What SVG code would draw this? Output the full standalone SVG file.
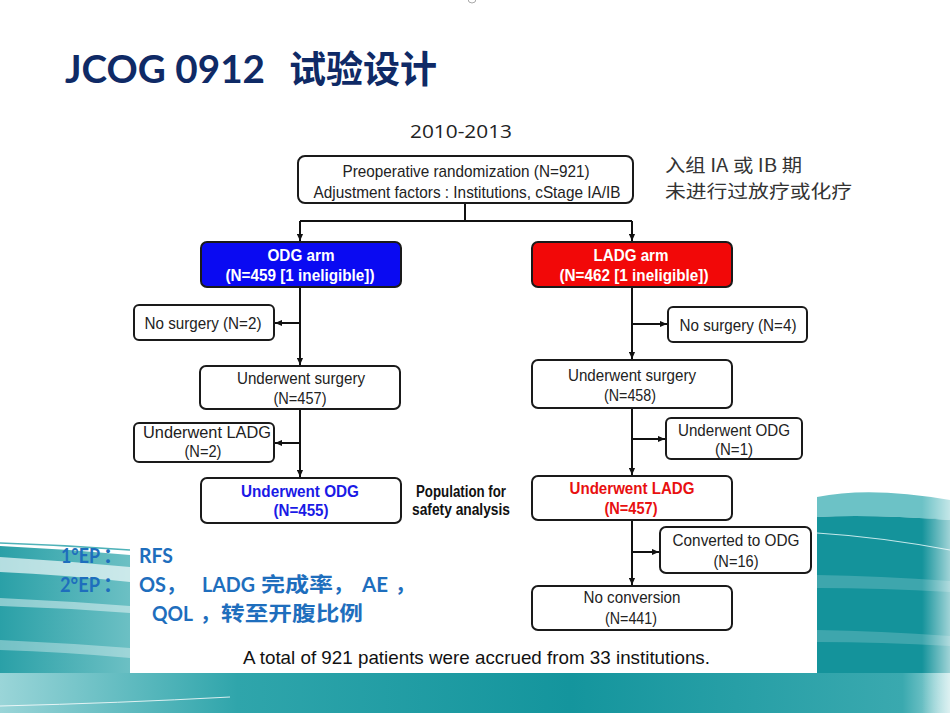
<svg xmlns="http://www.w3.org/2000/svg" width="950" height="713" viewBox="0 0 950 713">
<style>
.box{fill:#fff;stroke:#1a1a1a;stroke-width:2}
.t{font-family:"Liberation Sans",Arial,sans-serif;font-size:17px;fill:#222;text-anchor:middle}
.tb{font-family:"Liberation Sans",Arial,sans-serif;font-size:16px;font-weight:bold;text-anchor:middle}
.w{fill:#fff}
.blue{fill:#1a1ae6}
.red{fill:#e81010}
.ln{fill:none;stroke:#111;stroke-width:2}
.ep{font-family:Lato,"Noto Sans CJK SC",sans-serif;font-size:20px;font-weight:bold;fill:#1e6ebd}
.cjk{font-family:"Noto Sans CJK SC",sans-serif;font-size:18px;fill:#333}
</style>
<defs>
<marker id="ah" viewBox="0 0 8 8" refX="8" refY="4" markerWidth="7" markerHeight="7" markerUnits="userSpaceOnUse" orient="auto"><path d="M0,0.5 L8,4 L0,7.5 Z" fill="#111"/></marker>
<linearGradient id="gBot" x1="0" y1="0" x2="1" y2="0">
<stop offset="0" stop-color="#9ad5d8"/><stop offset="0.25" stop-color="#2fa5ab"/><stop offset="0.6" stop-color="#14959d"/><stop offset="0.95" stop-color="#3aa9af"/><stop offset="1" stop-color="#a9dcde"/>
</linearGradient>
<linearGradient id="gLeft" x1="0" y1="0" x2="1" y2="0">
<stop offset="0" stop-color="#2aa0a7"/><stop offset="1" stop-color="#6cc0c4"/>
</linearGradient>
<linearGradient id="gEdge" x1="0" y1="0" x2="1" y2="0">
<stop offset="0" stop-color="#fff" stop-opacity="0"/><stop offset="1" stop-color="#fff" stop-opacity="0.6"/>
</linearGradient>
</defs>
<rect x="0" y="0" width="950" height="713" fill="#fff"/>
<!-- decorative waves -->
<g id="decor">
<path d="M0,546 Q65,549 130,555 L130,673 L0,673 Z" fill="url(#gLeft)"/>
<path d="M0,543 Q65,545 130,550" fill="none" stroke="#4fb2b8" stroke-width="1.5"/>
<path d="M0,557 Q65,561 130,567 L130,582 Q65,575 0,572 Z" fill="#fff" opacity="0.65"/>
<path d="M0,598 Q65,601 130,606 L130,613 Q65,608 0,606 Z" fill="#fff" opacity="0.45"/>
<path d="M0,640 Q65,643 130,648 L130,658 Q65,652 0,650 Z" fill="#fff" opacity="0.35"/>
<rect x="0" y="673" width="950" height="40" fill="url(#gBot)"/>
<path d="M0,706 Q120,703 230,697" fill="none" stroke="#fff" stroke-opacity="0.8" stroke-width="1"/>
<path d="M817,497 Q870,486 950,500 L950,520 Q870,514 817,517 Z" fill="#6cc2c6"/>
<path d="M817,517 Q870,514 950,520 L950,673 L817,673 Z" fill="#14939b"/>
<path d="M817,533 Q880,537 950,550" fill="none" stroke="#c4e8ea" stroke-width="1.2"/>
<path d="M817,575 Q880,576 950,581 L950,592 Q880,588 817,588 Z" fill="#fff" opacity="0.18"/>
<path d="M817,630 Q880,631 950,636 L950,646 Q880,642 817,642 Z" fill="#fff" opacity="0.18"/>
<rect x="922" y="490" width="28" height="223" fill="url(#gEdge)"/>
<rect x="130" y="110" width="687" height="563" fill="#fff"/>
</g>
<circle cx="472" cy="-1" r="4" fill="none" stroke="#aaa" stroke-width="1"/>
<!-- title -->
<text x="65" y="83" font-family="Lato,'Open Sans',sans-serif" font-size="38" font-weight="bold" fill="#0f2a66"><tspan textLength="200" lengthAdjust="spacingAndGlyphs">JCOG 0912</tspan><tspan x="289" font-family="'Noto Sans CJK SC',sans-serif" font-size="37">试验设计</tspan></text>
<text x="410" y="138" font-family="'Open Sans','Liberation Sans',sans-serif" font-size="18" fill="#222" textLength="102" lengthAdjust="spacingAndGlyphs">2010-2013</text>
<text class="cjk" x="665" y="172" textLength="137" lengthAdjust="spacingAndGlyphs">入组 IA 或 IB 期</text>
<text class="cjk" x="665" y="198" textLength="187" lengthAdjust="spacingAndGlyphs">未进行过放疗或化疗</text>
<!-- connectors -->
<g id="connectors">
<path class="ln" d="M465,204 V221 M300,221 H632"/>
<path class="ln" d="M300,221 V241" marker-end="url(#ah)"/>
<path class="ln" d="M632,221 V241" marker-end="url(#ah)"/>
<path class="ln" d="M300,287 V365" marker-end="url(#ah)"/>
<path class="ln" d="M300,323 H275" marker-end="url(#ah)"/>
<path class="ln" d="M300,409 V477" marker-end="url(#ah)"/>
<path class="ln" d="M300,443 H275" marker-end="url(#ah)"/>
<path class="ln" d="M632,287 V359" marker-end="url(#ah)"/>
<path class="ln" d="M632,324 H667" marker-end="url(#ah)"/>
<path class="ln" d="M632,408 V475" marker-end="url(#ah)"/>
<path class="ln" d="M632,439 H665" marker-end="url(#ah)"/>
<path class="ln" d="M632,520 V585" marker-end="url(#ah)"/>
<path class="ln" d="M632,552 H659" marker-end="url(#ah)"/>
</g>
<!-- nodes -->
<g id="randomization">
<rect class="box" x="298" y="156" width="335" height="47" rx="7"/>
<text class="t" x="466" y="177" textLength="247" lengthAdjust="spacingAndGlyphs">Preoperative randomization (N=921)</text>
<text class="t" x="467" y="198" textLength="307" lengthAdjust="spacingAndGlyphs">Adjustment factors : Institutions, cStage IA/IB</text>
</g>
<g id="odg_arm">
<rect x="201" y="242" width="200" height="45" rx="6" fill="#0a0af2" stroke="#1a1a1a" stroke-width="2"/>
<text class="tb w" x="301" y="261" textLength="67" lengthAdjust="spacingAndGlyphs">ODG arm</text>
<text class="tb w" x="300" y="281" textLength="149" lengthAdjust="spacingAndGlyphs">(N=459 [1 ineligible])</text>
</g>
<g id="ladg_arm">
<rect x="532" y="242" width="200" height="45" rx="6" fill="#f20808" stroke="#1a1a1a" stroke-width="2"/>
<text class="tb w" x="631" y="261" textLength="75" lengthAdjust="spacingAndGlyphs">LADG arm</text>
<text class="tb w" x="634" y="281" textLength="149" lengthAdjust="spacingAndGlyphs">(N=462 [1 ineligible])</text>
</g>
<g id="odg_no_surgery">
<rect class="box" x="134" y="305" width="140" height="35" rx="5"/>
<text class="t" x="203" y="329" textLength="117" lengthAdjust="spacingAndGlyphs">No surgery (N=2)</text>
</g>
<g id="odg_surgery">
<rect class="box" x="200" y="366" width="200" height="43" rx="6"/>
<text class="t" x="301" y="384" textLength="128" lengthAdjust="spacingAndGlyphs">Underwent surgery</text>
<text class="t" x="300" y="404" textLength="53" lengthAdjust="spacingAndGlyphs">(N=457)</text>
</g>
<g id="odg_ladg">
<rect class="box" x="134" y="423" width="140" height="39" rx="5"/>
<text class="t" x="207" y="438" textLength="128" lengthAdjust="spacingAndGlyphs">Underwent LADG</text>
<text class="t" x="203" y="457" textLength="37" lengthAdjust="spacingAndGlyphs">(N=2)</text>
</g>
<g id="odg_underwent_odg">
<rect class="box" x="201" y="478" width="200" height="45" rx="6"/>
<text class="tb blue" x="300" y="497" textLength="118" lengthAdjust="spacingAndGlyphs">Underwent ODG</text>
<text class="tb blue" x="301" y="516" textLength="55" lengthAdjust="spacingAndGlyphs">(N=455)</text>
</g>
<g id="population_label">
<text class="tb" x="461" y="497" font-size="14" fill="#111" textLength="90" lengthAdjust="spacingAndGlyphs">Population for</text>
<text class="tb" x="461" y="515" font-size="14" fill="#111" textLength="98" lengthAdjust="spacingAndGlyphs">safety  analysis</text>
</g>
<g id="ladg_no_surgery">
<rect class="box" x="668" y="307" width="139" height="35" rx="5"/>
<text class="t" x="738" y="331" textLength="117" lengthAdjust="spacingAndGlyphs">No surgery (N=4)</text>
</g>
<g id="ladg_surgery">
<rect class="box" x="532" y="360" width="200" height="48" rx="6"/>
<text class="t" x="632" y="381" textLength="128" lengthAdjust="spacingAndGlyphs">Underwent surgery</text>
<text class="t" x="630" y="401" textLength="52" lengthAdjust="spacingAndGlyphs">(N=458)</text>
</g>
<g id="ladg_odg">
<rect class="box" x="666" y="418" width="136" height="41" rx="5"/>
<text class="t" x="734" y="436" textLength="112" lengthAdjust="spacingAndGlyphs">Underwent ODG</text>
<text class="t" x="734" y="455" textLength="38" lengthAdjust="spacingAndGlyphs">(N=1)</text>
</g>
<g id="ladg_underwent_ladg">
<rect class="box" x="532" y="476" width="200" height="44" rx="6"/>
<text class="tb red" x="632" y="494" textLength="125" lengthAdjust="spacingAndGlyphs">Underwent LADG</text>
<text class="tb red" x="631" y="514" textLength="53" lengthAdjust="spacingAndGlyphs">(N=457)</text>
</g>
<g id="converted">
<rect class="box" x="660" y="527" width="151" height="46" rx="6"/>
<text class="t" x="736" y="546" textLength="127" lengthAdjust="spacingAndGlyphs">Converted to ODG</text>
<text class="t" x="736" y="567" textLength="45" lengthAdjust="spacingAndGlyphs">(N=16)</text>
</g>
<g id="no_conversion">
<rect class="box" x="532" y="586" width="200" height="44" rx="6"/>
<text class="t" x="632" y="603" textLength="97" lengthAdjust="spacingAndGlyphs">No conversion</text>
<text class="t" x="631" y="624" textLength="52" lengthAdjust="spacingAndGlyphs">(N=441)</text>
</g>
<text x="243" y="664" font-family="'Liberation Sans',Arial,sans-serif" font-size="19" fill="#111" textLength="467" lengthAdjust="spacingAndGlyphs">A total of 921 patients were accrued from 33 institutions.</text>
<!-- endpoints -->
<g id="endpoints">
<text class="ep" y="563"><tspan x="61" textLength="39" lengthAdjust="spacingAndGlyphs">1°EP</tspan><tspan x="103">：</tspan><tspan x="139" textLength="34" lengthAdjust="spacingAndGlyphs">RFS</tspan></text>
<text class="ep" y="592"><tspan x="60" textLength="40" lengthAdjust="spacingAndGlyphs">2°EP</tspan><tspan x="103">：</tspan><tspan x="139" textLength="27" lengthAdjust="spacingAndGlyphs">OS</tspan><tspan x="166">，</tspan><tspan x="202" textLength="53" lengthAdjust="spacingAndGlyphs">LADG</tspan><tspan x="261" textLength="72" lengthAdjust="spacingAndGlyphs">完成率</tspan><tspan x="333">，</tspan><tspan x="362" textLength="26" lengthAdjust="spacingAndGlyphs">AE</tspan><tspan x="395">，</tspan></text>
<text class="ep" y="621"><tspan x="152" textLength="41" lengthAdjust="spacingAndGlyphs">QOL</tspan><tspan x="200">，</tspan><tspan x="221" textLength="142" lengthAdjust="spacingAndGlyphs">转至开腹比例</tspan></text>
</g>
</svg>
